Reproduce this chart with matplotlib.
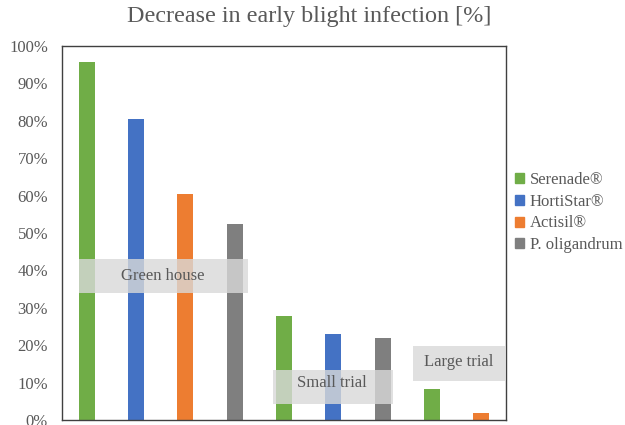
import numpy as np
import matplotlib.pyplot as plt
from matplotlib.patches import Patch, Rectangle

plt.rcParams['font.family'] = ['Liberation Serif', 'DejaVu Serif']

# bars in order from left to right
products = ['Serenade®', 'HortiStar®', 'Actisil®', 'P. oligandrum']
colors = ['#70AD47', '#4472C4', '#ED7D31', '#7F7F7F']

bar_product = ['Serenade®', 'HortiStar®', 'Actisil®', 'P. oligandrum',
               'Serenade®', 'HortiStar®', 'P. oligandrum',
               'Serenade®', 'Actisil®']
bar_values = [0.958, 0.805, 0.604, 0.525,
              0.278, 0.229, 0.219,
              0.083, 0.018]

# trial label boxes (text position, box left/right, box bottom/top)
trials = ['Green house', 'Small trial', 'Large trial']
trial_x = [1.55, 4.97, 7.54]
trial_y = [0.385, 0.099, 0.156]
box_x = [(-0.16, 3.27), (3.77, 6.21), (6.61, 8.5)]
box_y = [(0.34, 0.43), (0.043, 0.134), (0.104, 0.198)]

fig = plt.figure(figsize=(6.25, 4.25), dpi=100)
ax = fig.add_axes([0.0992, 0.0118, 0.7104, 0.88])

x = np.arange(len(bar_values))
bar_colors = [colors[products.index(p)] for p in bar_product]
ax.bar(x, bar_values, width=0.32, color=bar_colors, zorder=2)

ax.set_xlim(-0.5, len(bar_values) - 0.5)
ax.set_ylim(0, 1)
ticks = np.arange(0, 1.01, 0.1)
ax.set_yticks(ticks)
ax.set_yticklabels(['%d%%' % round(v * 100) for v in ticks],
                   fontsize=12, color='#595959')
ax.set_xticks([])
ax.tick_params(axis='y', length=0, pad=10)
for s in ax.spines.values():
    s.set_color('#404040')
    s.set_linewidth(1.0)

for t, tx, ty, bx, by in zip(trials, trial_x, trial_y, box_x, box_y):
    ax.add_patch(Rectangle((bx[0], by[0]), bx[1] - bx[0], by[1] - by[0],
                           fc='#d9d9d9', ec='none', alpha=0.8, zorder=3,
                           clip_on=False))
    ax.text(tx, ty, t, ha='center', va='center', fontsize=12, color='#595959',
            zorder=4)

handles = [Patch(color=c, label=p) for p, c in zip(products, colors)]
fig.legend(handles=handles, loc='center left', bbox_to_anchor=(0.80, 0.50),
           frameon=False, fontsize=12, handlelength=0.55, handleheight=0.55,
           handletextpad=0.35, labelspacing=0.35, labelcolor='#595959')

fig.suptitle('Decrease in early blight infection [%]', x=0.495, y=0.985,
             fontsize=17.4, color='#595959')

fig.savefig('out.png', dpi=100)
